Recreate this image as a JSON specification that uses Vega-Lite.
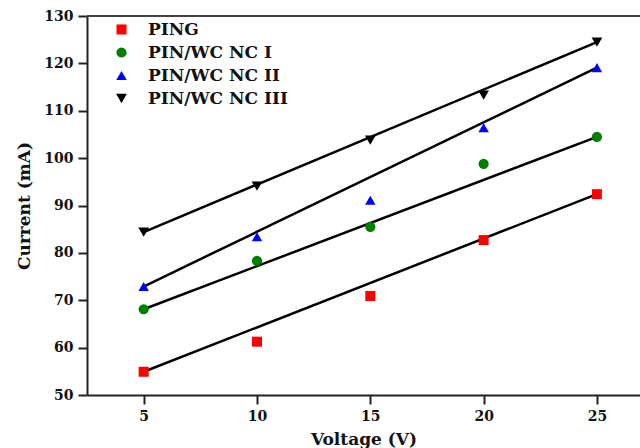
{
  "$schema": "https://vega.github.io/schema/vega-lite/v6.json",
  "width": 553,
  "height": 379,
  "autosize": {"type": "none"},
  "padding": {"left": 87, "top": 16, "right": 0, "bottom": 53},
  "background": "white",
  "config": {
    "view": {"stroke": null},
    "font": "DejaVu Serif",
    "axis": {
      "grid": false,
      "domainColor": "#222",
      "domainWidth": 2,
      "tickColor": "#222",
      "tickWidth": 2,
      "tickSize": 9,
      "labelFont": "DejaVu Serif",
      "labelFontWeight": "bold",
      "labelFontSize": 14,
      "labelColor": "#111",
      "titleFont": "DejaVu Serif",
      "titleFontWeight": "bold",
      "titleFontSize": 17,
      "titleColor": "#111"
    }
  },
  "data": {
    "values": [
      {"series": "PING", "voltage": 5, "current": 54.9},
      {"series": "PING", "voltage": 10, "current": 61.25},
      {"series": "PING", "voltage": 15, "current": 70.9},
      {"series": "PING", "voltage": 20, "current": 82.7},
      {"series": "PING", "voltage": 25, "current": 92.4},
      {"series": "PIN/WC NC I", "voltage": 5, "current": 68.1},
      {"series": "PIN/WC NC I", "voltage": 10, "current": 78.3},
      {"series": "PIN/WC NC I", "voltage": 15, "current": 85.5},
      {"series": "PIN/WC NC I", "voltage": 20, "current": 98.8},
      {"series": "PIN/WC NC I", "voltage": 25, "current": 104.5},
      {"series": "PIN/WC NC II", "voltage": 5, "current": 72.9},
      {"series": "PIN/WC NC II", "voltage": 10, "current": 83.4},
      {"series": "PIN/WC NC II", "voltage": 15, "current": 91.1},
      {"series": "PIN/WC NC II", "voltage": 20, "current": 106.4},
      {"series": "PIN/WC NC II", "voltage": 25, "current": 119.1},
      {"series": "PIN/WC NC III", "voltage": 5, "current": 84.4},
      {"series": "PIN/WC NC III", "voltage": 10, "current": 94.1},
      {"series": "PIN/WC NC III", "voltage": 15, "current": 103.8},
      {"series": "PIN/WC NC III", "voltage": 20, "current": 113.3},
      {"series": "PIN/WC NC III", "voltage": 25, "current": 124.5}
    ]
  },
  "encoding": {
    "x": {
      "field": "voltage", "type": "quantitative",
      "scale": {"domain": [2.5, 26.9], "nice": false, "zero": false},
      "axis": {"values": [5, 10, 15, 20, 25], "title": "Voltage (V)", "labelPadding": 5, "titlePadding": 8}
    },
    "y": {
      "field": "current", "type": "quantitative",
      "scale": {"domain": [50, 130], "nice": false, "zero": false},
      "axis": {"values": [50, 60, 70, 80, 90, 100, 110, 120, 130], "title": "Current (mA)", "labelPadding": 5, "titlePadding": 10}
    }
  },
  "layer": [
    {
      "mark": {"type": "rule", "color": "#444", "strokeWidth": 2},
      "encoding": {"y": {"datum": 130}, "x": null}
    },
    {
      "transform": [{"filter": "datum.voltage == 5 || datum.voltage == 25"}],
      "mark": {"type": "line", "color": "black", "strokeWidth": 2.5},
      "encoding": {"detail": {"field": "series"}}
    },
    {
      "mark": {"type": "point", "filled": true, "opacity": 1},
      "encoding": {
        "color": {
          "field": "series", "type": "nominal",
          "scale": {"domain": ["PING", "PIN/WC NC I", "PIN/WC NC II", "PIN/WC NC III"], "range": ["#ff0000", "#008000", "#0000ff", "#000000"]},
          "legend": {
            "title": null, "orient": "none", "legendX": 26, "legendY": 5,
            "padding": 0, "labelFont": "DejaVu Serif", "labelFontWeight": "bold", "labelFontSize": 17,
            "labelColor": "#111", "symbolSize": 130, "rowPadding": 5, "labelOffset": 18
          }
        },
        "shape": {
          "field": "series", "type": "nominal",
          "scale": {"domain": ["PING", "PIN/WC NC I", "PIN/WC NC II", "PIN/WC NC III"], "range": ["square", "circle", "triangle-up", "triangle-down"]}
        },
        "size": {
          "field": "series", "type": "nominal",
          "scale": {"domain": ["PING", "PIN/WC NC I", "PIN/WC NC II", "PIN/WC NC III"], "range": [100, 115, 230, 230]},
          "legend": null
        }
      }
    }
  ]
}
